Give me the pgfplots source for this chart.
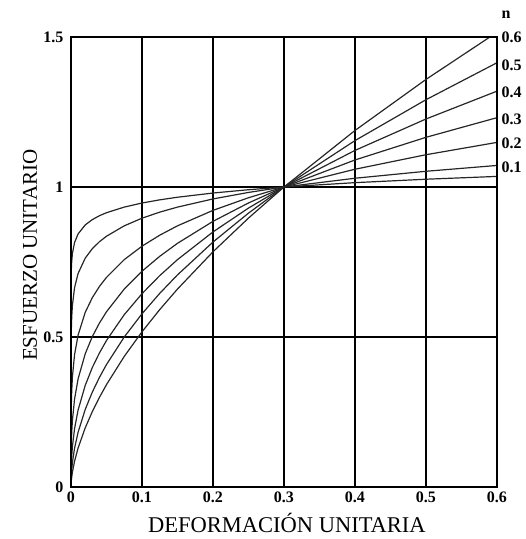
\documentclass[border=0pt]{standalone}
\usepackage{pgfplots}
\pgfplotsset{compat=1.18}
\usepackage{fontspec}
\setmainfont{Liberation Serif}

\begin{document}
\begin{tikzpicture}
\begin{axis}[
    scale only axis,
    width=426pt, height=450pt,
    xmin=0, xmax=0.6, ymin=0, ymax=1.5,
    xtick={0,0.1,0.2,0.3,0.4,0.5,0.6},
    ytick={0,0.5,1,1.5},
    xticklabels={0,0.1,0.2,0.3,0.4,0.5,0.6},
    yticklabels={0,0.5,1,1.5},
    ticklabel style={font=\fontsize{16}{18}\selectfont\bfseries},
    yticklabel style={xshift=-4pt},
    xticklabel style={yshift=-1pt},
    major tick length=0pt,
    grid=major,
    grid style={black, line width=1.1pt},
    xlabel={DEFORMACIÓN UNITARIA},
    ylabel={ESFUERZO UNITARIO},
    xlabel style={font=\fontsize{22.5}{24}\selectfont,
      at={(axis description cs:0.507,-0.08)}, anchor=center},
    ylabel style={font=\fontsize{21}{23}\selectfont,
      at={(axis description cs:-0.096,0.515)}, anchor=center},
    clip mode=individual,
    curve/.style={draw=black!85, line width=1.2pt, solid, mark=none},
  ]

  % n = 0.05
  \addplot[curve] coordinates {
    (0,0) (0.00001,0.57) (0.0001,0.670) (0.0005,0.7262) (0.001,0.7519) (0.002,0.7784)
    (0.005,0.8149) (0.01,0.8436) (0.02,0.8734) (0.03,0.8913) (0.04,0.9042)
    (0.05,0.9143) (0.075,0.9330) (0.1,0.9466) (0.125,0.9572) (0.15,0.9659)
    (0.2,0.9799) (0.25,0.9909) (0.3,1) (0.4,1.0145) (0.5,1.0259) (0.6,1.0353)
  };
  % n = 0.1
  \addplot[curve] coordinates {
    (0,0) (0.00001,0.33) (0.0001,0.4491) (0.0005,0.5274) (0.001,0.5653) (0.002,0.6059)
    (0.005,0.6640) (0.01,0.7117) (0.02,0.7627) (0.03,0.7943) (0.04,0.8175)
    (0.05,0.8359) (0.075,0.8706) (0.1,0.8960) (0.125,0.9162) (0.15,0.9330)
    (0.2,0.9602) (0.25,0.9819) (0.3,1) (0.4,1.0292) (0.5,1.0524) (0.6,1.0718)
  };
  % n = 0.2
  \addplot[curve] coordinates {
    (0,0) (0.0001,0.2017) (0.0005,0.2782) (0.001,0.3196) (0.002,0.3671)
    (0.005,0.4409) (0.01,0.5065) (0.02,0.5818) (0.03,0.6310) (0.04,0.6683)
    (0.05,0.6988) (0.075,0.7579) (0.1,0.8027) (0.125,0.8394) (0.15,0.8706)
    (0.2,0.9221) (0.25,0.9642) (0.3,1) (0.4,1.0592) (0.5,1.1076) (0.6,1.1487)
  };
  % n = 0.3
  \addplot[curve] coordinates {
    (0,0) (0.0001,0.0906) (0.0005,0.1467) (0.001,0.1807) (0.002,0.2224)
    (0.005,0.2928) (0.01,0.3605) (0.02,0.4438) (0.03,0.5012) (0.04,0.5463)
    (0.05,0.5842) (0.075,0.6598) (0.1,0.7192) (0.125,0.7690) (0.15,0.8123)
    (0.2,0.8855) (0.25,0.9468) (0.3,1) (0.4,1.0901) (0.5,1.1656) (0.6,1.2311)
  };
  % n = 0.4
  \addplot[curve] coordinates {
    (0,0) (0.0001,0.0407) (0.0005,0.0774) (0.001,0.1021) (0.002,0.1347)
    (0.005,0.1944) (0.01,0.2565) (0.02,0.3385) (0.03,0.3981) (0.04,0.4466)
    (0.05,0.4884) (0.075,0.5744) (0.1,0.6444) (0.125,0.7046) (0.15,0.7579)
    (0.2,0.8503) (0.25,0.9297) (0.3,1) (0.4,1.1220) (0.5,1.2267) (0.6,1.3195)
  };
  % n = 0.5
  \addplot[curve] coordinates {
    (0,0) (0.0001,0.0183) (0.0005,0.0408) (0.001,0.0577) (0.002,0.0816)
    (0.005,0.1291) (0.01,0.1826) (0.02,0.2582) (0.03,0.3162) (0.04,0.3651)
    (0.05,0.4082) (0.075,0.5) (0.1,0.5774) (0.125,0.6455) (0.15,0.7071)
    (0.2,0.8165) (0.25,0.9129) (0.3,1) (0.4,1.1547) (0.5,1.2910) (0.6,1.4142)
  };
  % n = 0.6
  \addplot[curve] coordinates {
    (0,0) (0.0001,0.0082) (0.0005,0.0215) (0.001,0.0326) (0.002,0.0495)
    (0.005,0.0857) (0.01,0.1299) (0.02,0.1969) (0.03,0.2512) (0.04,0.2985)
    (0.05,0.3413) (0.075,0.4353) (0.1,0.5173) (0.125,0.5914) (0.15,0.6598)
    (0.2,0.7841) (0.25,0.8964) (0.3,1) (0.4,1.1884) (0.5,1.3586) (0.6,1.5157)
  };

  % thick frame
  \draw[black, line width=2.2pt] (rel axis cs:0,0) rectangle (rel axis cs:1,1);

  \begin{scope}[every node/.style={anchor=west, xshift=1pt,
      font=\fontsize{16}{18}\selectfont\bfseries}]
    \node at (axis cs:0.6,1.5) {0.6};
    \node at (axis cs:0.6,1.405) {0.5};
    \node at (axis cs:0.6,1.315) {0.4};
    \node at (axis cs:0.6,1.225) {0.3};
    \node at (axis cs:0.6,1.145) {0.2};
    \node at (axis cs:0.6,1.065) {0.1};
    \node at (axis cs:0.6,1.575) {n};
  \end{scope}

  % page margins like the reference
  \path ([shift={(-71pt,-52pt)}]rel axis cs:0,0) rectangle ([shift={(29pt,37pt)}]rel axis cs:1,1);
\end{axis}
\end{tikzpicture}
\end{document}
